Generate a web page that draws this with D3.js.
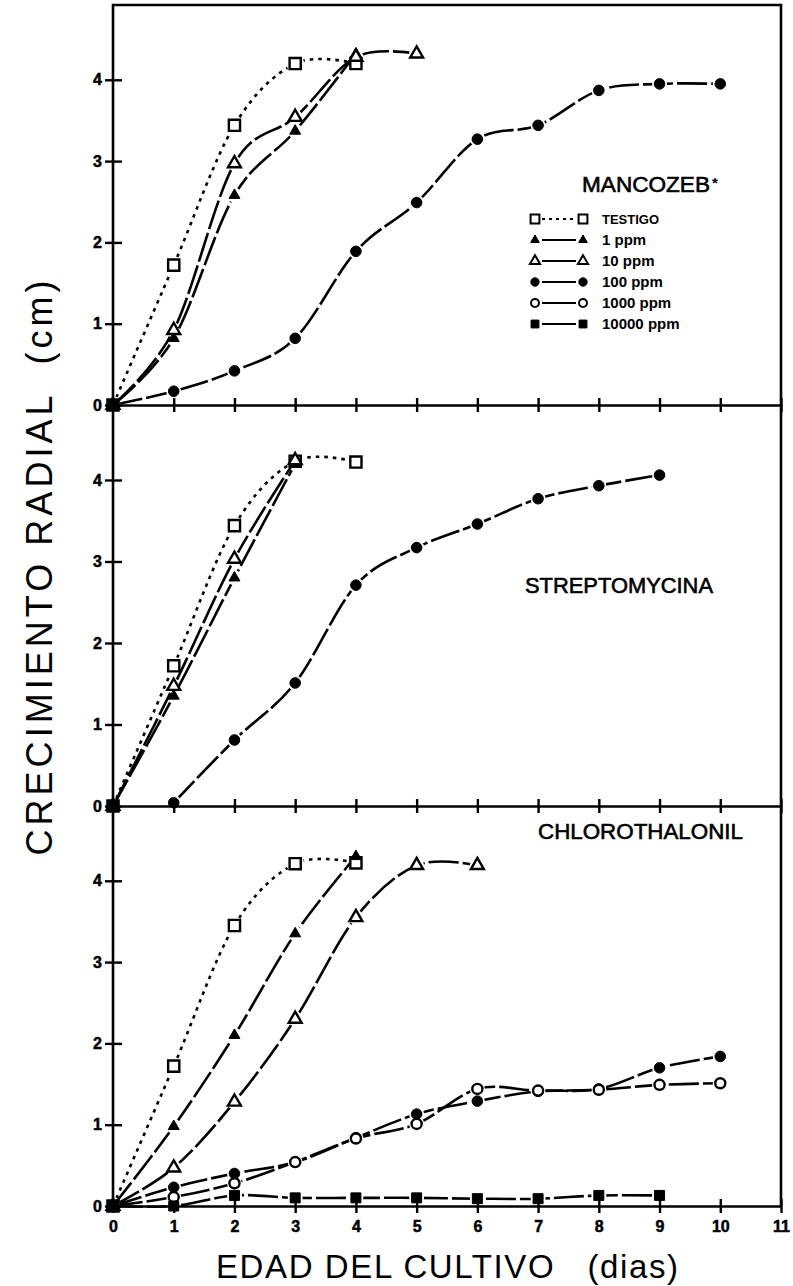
<!DOCTYPE html>
<html>
<head>
<meta charset="utf-8">
<script src="https://cdn.jsdelivr.net/npm/d3@7"></script>
<style>
  body { margin: 0; background: #fff; }
  svg { display: block; font-family: "Liberation Sans", Arial, sans-serif; }
</style>
</head>
<body>
<div id="chart"></div>
<script>
// días de cultivo y marcas del eje
const dias = [0, 1, 2, 3, 4, 5, 6, 7, 8, 9, 10, 11];
const yTicks = [0, 1, 2, 3, 4];
const tratamientos = ["TESTIGO", "1 ppm", "10 ppm", "100 ppm", "1000 ppm", "10000 ppm"];
const fungicidas = ["MANCOZEB", "STREPTOMYCINA", "CHLOROTHALONIL"];

// crecimiento radial (cm) por día, un arreglo por tratamiento (null = sin dato)
const mancozebTestigo = [0, 1.72, 3.44, 4.2, 4.2];
const mancozeb1 = [0, 0.82, 2.58, 3.37, 4.32];
const mancozeb10 = [0, 0.92, 2.97, 3.54, 4.28, 4.32];
const mancozeb100 = [0, 0.17, 0.42, 0.82, 1.89, 2.49, 3.27, 3.44, 3.87, 3.95, 3.95];
const mancozeb1000 = [0];
const mancozeb10000 = [0];

const streptoTestigo = [0, 1.72, 3.44, 4.23, 4.22];
const strepto1 = [0, 1.35, 2.8, 4.2];
const strepto10 = [0, 1.47, 3.03, 4.24];
const strepto100 = [null, 0.04, 0.81, 1.51, 2.71, 3.17, 3.46, 3.77, 3.93, 4.06];
const strepto1000 = [0];
const strepto10000 = [0];

const chloroTestigo = [0, 1.72, 3.45, 4.21, 4.22];
const chloro1 = [0, 0.98, 2.1, 3.35, 4.3];
const chloro10 = [0, 0.47, 1.28, 2.3, 3.55, 4.19, 4.19];
const chloro100 = [0, 0.23, 0.4, 0.54, 0.84, 1.13, 1.29, 1.41, 1.44, 1.7, 1.84];
const chloro1000 = [0, 0.11, 0.28, 0.54, 0.83, 1.01, 1.44, 1.42, 1.43, 1.49, 1.51];
const chloro10000 = [0, 0, 0.13, 0.1, 0.1, 0.1, 0.09, 0.09, 0.13, 0.13];

const seriesPorPanel = [
  [mancozebTestigo, mancozeb1, mancozeb10, mancozeb100, mancozeb1000, mancozeb10000],
  [streptoTestigo, strepto1, strepto10, strepto100, strepto1000, strepto10000],
  [chloroTestigo, chloro1, chloro10, chloro100, chloro1000, chloro10000]
];

// símbolo de cada tratamiento
const simbolos = [
  { shape: d3.symbolSquare, size: 125, fill: "#fff" },
  { shape: d3.symbolTriangle, size: 52, fill: "#000" },
  { shape: d3.symbolTriangle, size: 72, fill: "#fff" },
  { shape: d3.symbolCircle, size: 88, fill: "#000" },
  { shape: d3.symbolCircle, size: 80, fill: "#fff" },
  { shape: d3.symbolSquare, size: 100, fill: "#000" }
];

const W = 793, H = 1286;
const left = 113, right = 781;
const panelTop = [5, 405, 806];
const panelBottom = [405, 806, 1206];

const svg = d3.select("#chart").append("svg")
  .attr("width", W).attr("height", H);

const x = d3.scaleLinear().domain([0, 11]).range([left, right]);

const defs = svg.append("defs");
const lineLayer = svg.append("g");
const axisLayer = svg.append("g");
const markLayer = svg.append("g");

seriesPorPanel.forEach((series, p) => {
  const y = d3.scaleLinear().domain([0, 4.92]).range([panelBottom[p], panelTop[p]]);

  series.forEach((vals, s) => {
    const pts = vals.map((v, i) => ({ dia: i, v })).filter(d => d.v !== null);

    // máscara para cortar la línea junto a cada símbolo
    const id = `m${p}-${s}`;
    const mask = defs.append("mask").attr("id", id)
      .attr("maskUnits", "userSpaceOnUse")
      .attr("x", 0).attr("y", 0).attr("width", W).attr("height", H);
    mask.append("rect").attr("width", W).attr("height", H).attr("fill", "#fff");
    mask.selectAll("circle").data(pts).join("circle")
      .attr("cx", d => x(d.dia))
      .attr("cy", d => y(d.v))
      .attr("r", s === 0 ? 9 : 7.5)
      .attr("fill", "#000");

    if (pts.length > 1) {
      const line = d3.line()
        .x(d => x(d.dia))
        .y(d => y(d.v))
        .curve(d3.curveCardinal);
      lineLayer.append("path")
        .attr("d", line(pts))
        .attr("fill", "none")
        .attr("stroke", "#000")
        .attr("stroke-width", 2.6)
        .attr("stroke-dasharray", s === 0 ? "3.5,5" : "30,4")
        .attr("mask", `url(#${id})`);
    }

    const sym = simbolos[s];
    markLayer.selectAll(null).data(pts).join("path")
      .attr("transform", d => `translate(${x(d.dia)},${y(d.v)})`)
      .attr("d", d3.symbol(sym.shape, sym.size))
      .attr("fill", sym.fill)
      .attr("stroke", "#000")
      .attr("stroke-width", sym.fill === "#fff" ? 2.4 : 1);
  });

  // eje Y del panel
  const ay = axisLayer.append("g")
    .attr("transform", `translate(${left},0)`)
    .call(d3.axisLeft(y).tickValues(yTicks).tickFormat(d3.format("d"))
      .tickSize(8).tickPadding(3).tickSizeOuter(0));
  ay.select(".domain").remove();
  ay.selectAll(".tick line").attr("x1", 9).attr("stroke-width", 2.4);
  ay.selectAll(".tick text")
    .attr("font-size", 16).attr("font-weight", "bold")
    .attr("font-family", "Liberation Sans, Arial, sans-serif")
    .attr("stroke", "#000").attr("stroke-width", 0.5);

  // eje X del panel
  const ax = axisLayer.append("g")
    .attr("transform", `translate(0,${panelBottom[p]})`)
    .call(d3.axisBottom(x).tickValues(dias).tickSize(7).tickPadding(8).tickSizeOuter(0)
      .tickFormat(p === 2 ? d3.format("d") : () => ""));
  ax.select(".domain").attr("stroke-width", 2.6);
  ax.selectAll(".tick line").attr("y1", -7).attr("stroke-width", 2.4);
  ax.selectAll(".tick text")
    .attr("font-size", 16).attr("font-weight", "bold")
    .attr("font-family", "Liberation Sans, Arial, sans-serif")
    .attr("stroke", "#000").attr("stroke-width", 0.5);
});

// marco
axisLayer.append("path")
  .attr("d", `M${left},${panelBottom[2]}V${panelTop[0]}H${right}V${panelBottom[2]}`)
  .attr("fill", "none").attr("stroke", "#000").attr("stroke-width", 2.6);

// nombres de los fungicidas
const rotulos = [
  { x: 582, y: 192, len: 128 },
  { x: 525, y: 593, len: 188 },
  { x: 538, y: 839, len: 205 }
];
fungicidas.forEach((f, i) => {
  svg.append("text")
    .attr("x", rotulos[i].x).attr("y", rotulos[i].y)
    .attr("font-size", 22)
    .attr("textLength", rotulos[i].len).attr("lengthAdjust", "spacingAndGlyphs")
    .attr("stroke", "#000").attr("stroke-width", 0.6)
    .text(f);
});
svg.append("text")
  .attr("x", 712).attr("y", 188)
  .attr("font-size", 15).attr("font-weight", "bold")
  .text("*");

// leyenda
const leyenda = svg.append("g");
tratamientos.forEach((t, i) => {
  const ly = 219 + i * 21;
  const sym = simbolos[i];
  leyenda.append("line")
    .attr("x1", 542).attr("x2", 576).attr("y1", ly).attr("y2", ly)
    .attr("stroke", "#000").attr("stroke-width", 2)
    .attr("stroke-dasharray", i === 0 ? "3,4" : null);
  [535, 583].forEach(cx => {
    leyenda.append("path")
      .attr("transform", `translate(${cx},${ly})`)
      .attr("d", d3.symbol(sym.shape, sym.size * 0.62))
      .attr("fill", sym.fill).attr("stroke", "#000")
      .attr("stroke-width", sym.fill === "#fff" ? 2 : 1);
  });
  leyenda.append("text")
    .attr("x", 602).attr("y", ly + 5)
    .attr("font-size", i === 0 ? 13 : 15).attr("font-weight", "bold")
    .text(t);
});

// títulos de los ejes
svg.append("text")
  .attr("transform", "translate(52,568) rotate(-90)")
  .attr("text-anchor", "middle")
  .attr("font-size", 36)
  .attr("textLength", 575).attr("lengthAdjust", "spacing")
  .style("white-space", "pre")
  .text("CRECIMIENTO RADIAL  (cm)");

svg.append("text")
  .attr("x", 447).attr("y", 1278)
  .attr("text-anchor", "middle")
  .attr("font-size", 33)
  .attr("textLength", 462).attr("lengthAdjust", "spacing")
  .style("white-space", "pre")
  .text("EDAD DEL CULTIVO   (dias)");
</script>
</body>
</html>
